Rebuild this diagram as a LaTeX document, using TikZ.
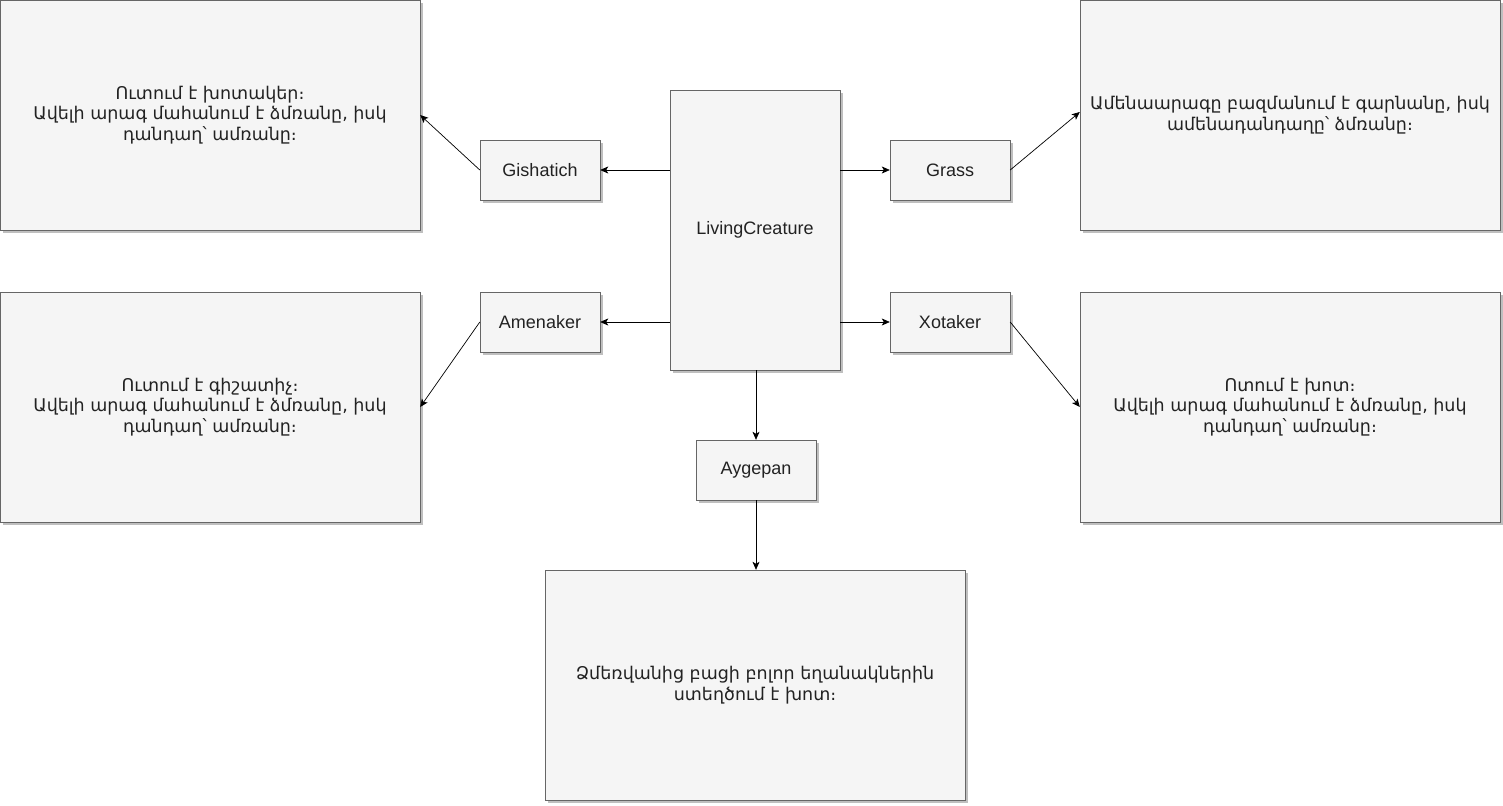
\documentclass[tikz,border=0pt]{standalone}
\usepackage{fontspec}
\setmainfont{Liberation Sans}
\newfontfamily\armfont{DejaVu Sans}
\usepackage{tikz}
\usetikzlibrary{arrows.meta}
\usetikzlibrary{shadows}

\definecolor{boxfill}{HTML}{F5F5F5}
\definecolor{boxline}{HTML}{666666}
\definecolor{boxtext}{HTML}{222222}

\begin{document}
\begin{tikzpicture}[x=1pt, y=-1pt]
			\tikzset{box/.style={shape = rectangle, draw = boxline, fill = boxfill, text = boxtext, inner sep = 0pt,
					drop shadow={shadow xshift=3pt, shadow yshift=-3pt, fill=black, opacity=0.25},
					font=\fontsize{18}{21}\selectfont, align=center}}
			\tikzset{smallbox/.style={box, minimum width = 120pt, minimum height = 60pt}}
			\tikzset{bigbox/.style={box, minimum width = 420pt, minimum height = 230pt,
					font=\armfont\fontsize{17.5}{20.5}\selectfont}}
			\tikzset{edge/.style={-{Stealth[length = 8pt, width = 7pt, inset = 2pt]}, line width = 0.7pt}}
			\useasboundingbox (0,0) rectangle (1503,805);
			%vertices
			\node[box, minimum width = 170pt, minimum height = 280pt] (lc) at (755, 230) {LivingCreature};
			\node[smallbox] (gishatich) at (540, 170) {Gishatich};
			\node[smallbox] (grass) at (950, 170) {Grass};
			\node[smallbox] (amenaker) at (540, 322) {Amenaker};
			\node[smallbox] (xotaker) at (950, 322) {Xotaker};
			\node[smallbox] (aygepan) at (756, 470) {Aygepan};
			\node[bigbox] (gishatichtxt) at (210, 115) {Ուտում է խոտակեր։\\Ավելի արագ մահանում է ձմռանը, իսկ\\դանդաղ՝ ամռանը։};
			\node[bigbox] (amenakertxt) at (210, 407) {Ուտում է գիշատիչ։\\Ավելի արագ մահանում է ձմռանը, իսկ\\դանդաղ՝ ամռանը։};
			\node[bigbox] (grasstxt) at (1290, 115) {Ամենաարագը բազմանում է գարնանը, իսկ\\ամենադանդաղը՝ ձմռանը։};
			\node[bigbox] (xotakertxt) at (1290, 407) {Ոտում է խոտ։\\Ավելի արագ մահանում է ձմռանը, իսկ\\դանդաղ՝ ամռանը։};
			\node[bigbox] (aygepantxt) at (755, 685) {Ձմեռվանից բացի բոլոր եղանակներին\\ստեղծում է խոտ։};
			%edges
			\draw[edge] (lc.west |- gishatich) -- (gishatich.east);
			\draw[edge] (lc.east |- grass) -- (grass.west);
			\draw[edge] (lc.west |- amenaker) -- (amenaker.east);
			\draw[edge] (lc.east |- xotaker) -- (xotaker.west);
			\draw[edge] (lc.south -| aygepan) -- (aygepan.north);
			\draw[edge] (gishatich.west) -- (gishatichtxt.east);
			\draw[edge] (grass.east) -- ([yshift=3pt]grasstxt.east -| grasstxt.west);
			\draw[edge] (amenaker.west) -- (amenakertxt.east);
			\draw[edge] (xotaker.east) -- (xotakertxt.west);
			\draw[edge] (aygepan.south) -- (aygepantxt.north -| aygepan);
\end{tikzpicture}
\end{document}
